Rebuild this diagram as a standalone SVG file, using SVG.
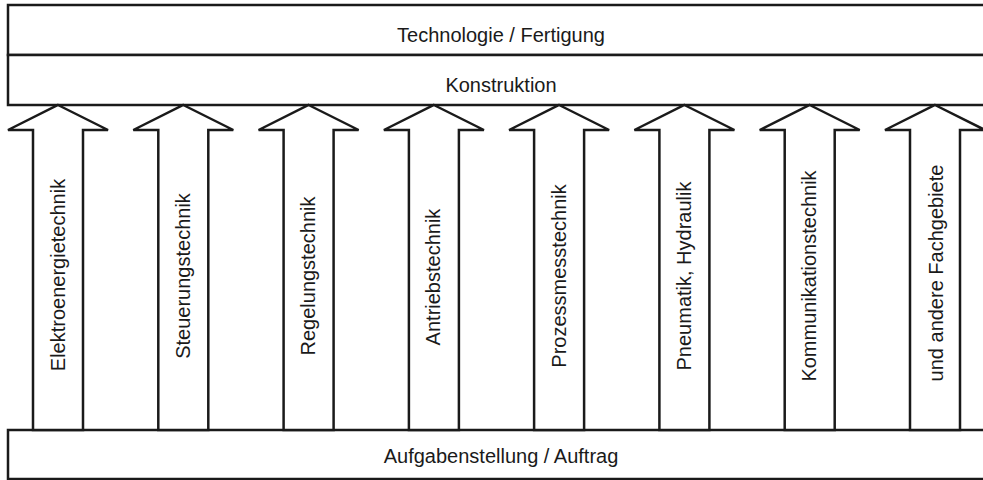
<svg xmlns="http://www.w3.org/2000/svg" width="983" height="480" viewBox="0 0 983 480">
<style>
.box{fill:#fff;stroke:#1a1a1a;stroke-width:2.5}
.arrow{fill:#fff;stroke:#1a1a1a;stroke-width:2.5;stroke-linejoin:miter}
.t{font-family:"Liberation Sans",Arial,sans-serif;font-size:20px;fill:#1a1a1a;text-anchor:middle}
</style>
<rect width="983" height="480" fill="#fff"/>
<g id="technologie">
<rect class="box" x="8" y="5" width="1000" height="50"/>
<text class="t" x="501" y="42">Technologie / Fertigung</text>
</g>
<g id="konstruktion">
<rect class="box" x="8" y="55" width="1000" height="50"/>
<text class="t" x="501" y="92">Konstruktion</text>
</g>
<g id="aufgabe">
<rect class="box" x="8" y="430" width="1000" height="49"/>
<text class="t" x="501" y="463">Aufgabenstellung / Auftrag</text>
</g>
<g id="connectors">
<g id="a1" transform="translate(58,0)">
<polygon class="arrow" points="0,105 50,130 25,130 25,430 -25,430 -25,130 -50,130"/>
<text class="t" transform="translate(6.5,275) rotate(-90)">Elektroenergietechnik</text>
</g>
<g id="a2" transform="translate(183.3,0)">
<polygon class="arrow" points="0,105 50,130 25,130 25,430 -25,430 -25,130 -50,130"/>
<text class="t" transform="translate(6.5,276) rotate(-90)">Steuerungstechnik</text>
</g>
<g id="a3" transform="translate(308.6,0)">
<polygon class="arrow" points="0,105 50,130 25,130 25,430 -25,430 -25,130 -50,130"/>
<text class="t" transform="translate(6.5,276) rotate(-90)">Regelungstechnik</text>
</g>
<g id="a4" transform="translate(433.9,0)">
<polygon class="arrow" points="0,105 50,130 25,130 25,430 -25,430 -25,130 -50,130"/>
<text class="t" transform="translate(6.5,277) rotate(-90)">Antriebstechnik</text>
</g>
<g id="a5" transform="translate(559.1,0)">
<polygon class="arrow" points="0,105 50,130 25,130 25,430 -25,430 -25,130 -50,130"/>
<text class="t" transform="translate(6.5,276) rotate(-90)">Prozessmesstechnik</text>
</g>
<g id="a6" transform="translate(684.4,0)">
<polygon class="arrow" points="0,105 50,130 25,130 25,430 -25,430 -25,130 -50,130"/>
<text class="t" transform="translate(6.5,276) rotate(-90)">Pneumatik, Hydraulik</text>
</g>
<g id="a7" transform="translate(809.7,0)">
<polygon class="arrow" points="0,105 50,130 25,130 25,430 -25,430 -25,130 -50,130"/>
<text class="t" transform="translate(6.5,276) rotate(-90)">Kommunikationstechnik</text>
</g>
<g id="a8" transform="translate(935,0)">
<polygon class="arrow" points="0,105 50,130 25,130 25,430 -25,430 -25,130 -50,130"/>
<text class="t" transform="translate(7.5,273) rotate(-90)">und andere Fachgebiete</text>
</g>
</g>
</svg>
